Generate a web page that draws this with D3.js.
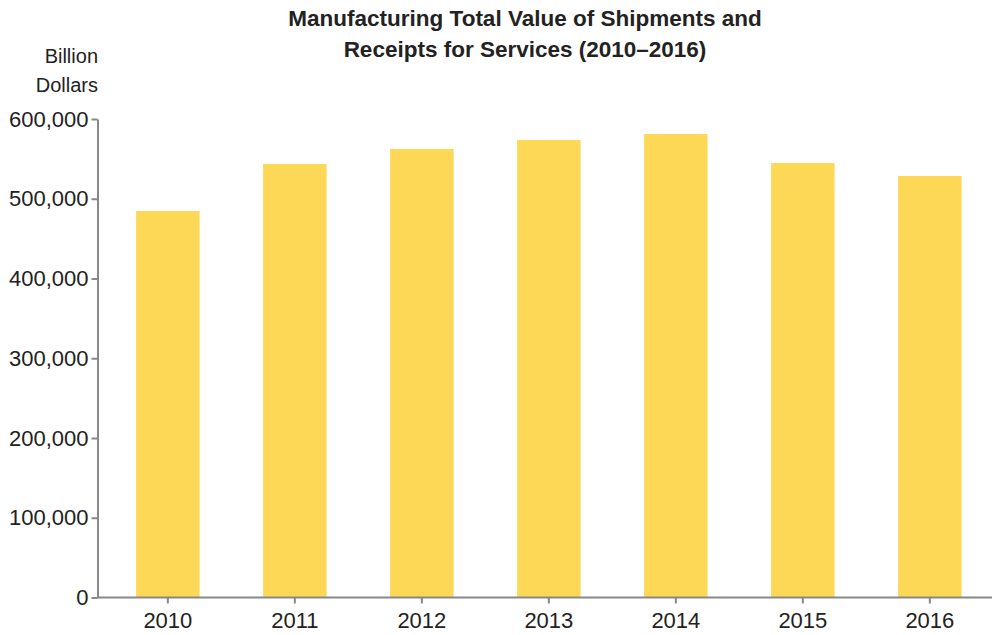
<!DOCTYPE html>
<html><head><meta charset="utf-8">
<script src="https://cdn.jsdelivr.net/npm/d3@7"></script>
<style>body{margin:0;background:#fff}svg{display:block}text{font-family:"Liberation Sans",Arial,sans-serif;fill:#222}</style>
</head><body><svg id="c" width="992" height="635"></svg>
<script>
const years = ["2010","2011","2012","2013","2014","2015","2016"];
const values = [484600, 543600, 562400, 573700, 581200, 544800, 528500];
const yTicks = [0,100000,200000,300000,400000,500000,600000];
const titleLines = ["Manufacturing Total Value of Shipments and","Receipts for Services (2010\u20132016)"];
const unitLines = ["Billion","Dollars"];

const svg = d3.select("#c");
const x = d3.scaleBand().domain(years).range([98, 999.7]).paddingInner(0.5).paddingOuter(0.3);
const y = d3.scaleLinear().domain([0,600000]).range([597.5, 119]);

svg.append("g").selectAll("rect").data(years).join("rect")
  .attr("x", d=>x(d)).attr("width", x.bandwidth())
  .attr("y", (d,i)=>y(values[i])).attr("height", (d,i)=>y(0)-y(values[i]))
  .attr("fill","#FDD857");

const fmt = d3.format(",");
const ya = svg.append("g").attr("transform","translate(97.5,0)")
  .call(d3.axisLeft(y).tickValues(yTicks).tickFormat(fmt).tickSize(6).tickPadding(3).tickSizeOuter(0));
const xa = svg.append("g").attr("transform","translate(0,597.5)")
  .call(d3.axisBottom(x).tickSize(6).tickPadding(9).tickSizeOuter(0));
[ya,xa].forEach(a=>{
  a.selectAll("path,line").attr("stroke","#888").attr("stroke-width",2);
  a.selectAll("text").style("font-size","22px").attr("fill","#222").style("font-family","'Liberation Sans',Arial,sans-serif");
});
xa.select(".domain").attr("d","M97,0H992");

svg.append("g").selectAll("text").data(titleLines).join("text")
  .attr("x",525).attr("y",(d,i)=>26+i*31).attr("text-anchor","middle")
  .style("font-size","22.5px").style("font-weight","bold").text(d=>d);

svg.append("g").selectAll("text").data(unitLines).join("text")
  .attr("x",98).attr("y",(d,i)=>63+i*29).attr("text-anchor","end")
  .style("font-size","20px").text(d=>d);
</script></body></html>
